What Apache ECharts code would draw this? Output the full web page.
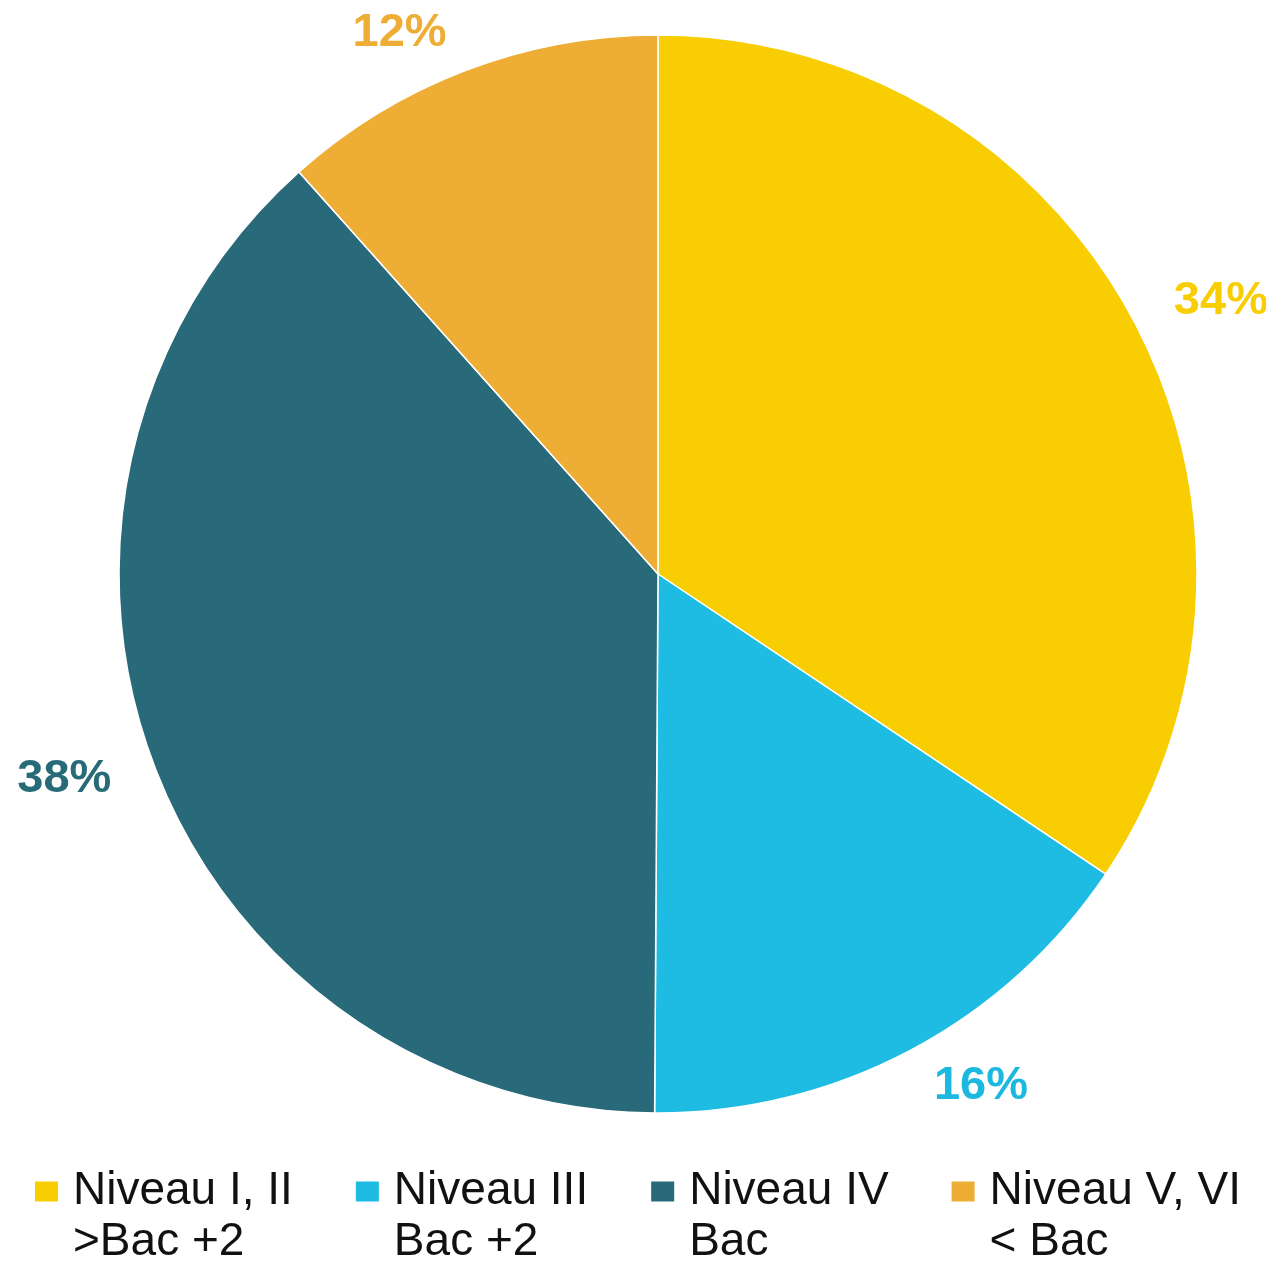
<!DOCTYPE html>
<html>
<head>
<meta charset="utf-8">
<script src="https://cdn.jsdelivr.net/npm/echarts@6/dist/echarts.min.js"></script>
<style>
  html, body { margin: 0; padding: 0; background: #fff; }
  #chart { width: 1266px; height: 1267px; }
</style>
</head>
<body>
<div id="chart"></div>
<script>
// niveaux de diplôme (sens horaire depuis le haut)
const categories = ['Niveau I, II\n>Bac +2', 'Niveau III\nBac +2', 'Niveau IV\nBac', 'Niveau V, VI\n< Bac']
const shares = [34.4, 15.7, 38.3, 11.6]
const colors = ['#f8ce02', '#1ebbe2', '#286a79', '#eeae35']
const labelColors = ['#f8ce02', '#1db8e0', '#276a78', '#eeae35']

const FONT = '"Liberation Sans", Arial, Helvetica, sans-serif'

const chart = echarts.init(document.getElementById('chart'))

chart.setOption({
  backgroundColor: '#fff',
  animation: false,
  legend: {
    orient: 'horizontal',
    left: 35,
    top: 1166,
    padding: 0,
    itemGap: 63,
    itemWidth: 33,
    itemHeight: 71,
    // carré en haut à gauche : aligné sur la première ligne, avec un peu d'air avant le texte
    icon: 'path://M0,0H23V20H0Z M0,71L33,71',
    itemStyle: { borderWidth: 0 },
    selectedMode: false,
    textStyle: {
      fontFamily: FONT,
      fontSize: 46,
      lineHeight: 51,
      color: '#111'
    },
    data: categories
  },
  series: [
    {
      type: 'pie',
      center: [658, 574],
      radius: 539,
      startAngle: 90,
      clockwise: true,
      avoidLabelOverlap: false,
      emphasis: { disabled: true },
      itemStyle: { borderColor: '#fff', borderWidth: 1.5 },
      label: {
        show: true,
        position: 'outside',
        bleedMargin: 0,
        width: 120,
        overflow: 'none',
        fontFamily: FONT,
        fontSize: 47,
        fontWeight: 'bold',
        formatter: p => Math.round(p.value) + '%'
      },
      labelLine: { show: false, length: 40, length2: 0 },
      data: categories.map((name, i) => ({
        name,
        value: shares[i],
        itemStyle: { color: colors[i] },
        label: { color: labelColors[i] }
      }))
    }
  ]
})
</script>
</body>
</html>
